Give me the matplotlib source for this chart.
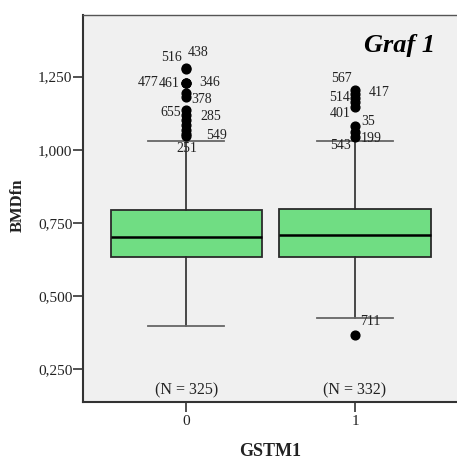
import matplotlib
matplotlib.use('Agg')
import matplotlib.pyplot as plt
import numpy as np

# data
groups = ['0', '1']
n_counts = [325, 332]
q1 = [0.633, 0.633]
med = [0.703, 0.710]
q3 = [0.793, 0.796]
whislo = [0.398, 0.424]
whishi = [1.029, 1.031]

fliers0 = [1.278, 1.275, 1.229, 1.228, 1.227, 1.194, 1.181, 1.136, 1.119,
           1.102, 1.085, 1.068, 1.054, 1.046]
ids0 = ['438', '516', '477', '461', '346', '378', '', '655', '', '285',
        '', '', '549', '251']
fliers1 = [1.204, 1.191, 1.177, 1.163, 1.146, 1.081, 1.061, 1.043, 0.367]
ids1 = ['567', '417', '514', '', '401', '35', '199', '543', '711']

yticks = [0.25, 0.5, 0.75, 1.0, 1.25]
ytick_labels = ['0,250', '0,500', '0,750', '1,000', '1,250']

# label offsets in pixels (dx, dy) from each outlier dot
offs0 = [(12, 16), (-15, 12), (-38, 0), (-17, 0), (23, 1), (15, -6), None,
         (-16, -3), None, (24, 3), None, None, (30, -2), (0, -12)]
offs1 = [(-14, 12), (24, 1), (-15, 1), None, (-15, -6), (13, 5), (16, -7),
         (-15, -8), (15, 13)]

serif = 'Liberation Serif'
plt.rcParams['font.family'] = serif

fig = plt.figure(figsize=(4.57, 4.61), dpi=100)
ax = fig.add_axes([0.181, 0.1273, 0.8227, 0.8402])
ax.set_facecolor('#f0f0f0')

stats = []
for i in range(2):
    stats.append({'med': med[i], 'q1': q1[i], 'q3': q3[i],
                  'whislo': whislo[i], 'whishi': whishi[i],
                  'fliers': [fliers0, fliers1][i]})

pos = np.arange(len(groups))
ax.bxp(stats, positions=pos, widths=0.9, capwidths=0.45, patch_artist=True,
       boxprops=dict(facecolor='#70dd83', edgecolor='#2a2a2a', linewidth=1.3),
       medianprops=dict(color='black', linewidth=1.8),
       whiskerprops=dict(color='#2a2a2a', linewidth=1.2),
       capprops=dict(color='#666666', linewidth=1.3),
       flierprops=dict(marker='o', markerfacecolor='black',
                       markeredgecolor='black', markersize=6.3))

# outlier case labels
for i, (vals, ids, offs) in enumerate([(fliers0, ids0, offs0),
                                       (fliers1, ids1, offs1)]):
    for v, lab, off in zip(vals, ids, offs):
        if not lab:
            continue
        ax.annotate(lab, (pos[i], v), xytext=off, textcoords='offset pixels',
                    ha='center', va='center', fontsize=10, color='#222222')

# N labels
for i, n in enumerate(n_counts):
    ax.text(pos[i], 0.1785, '(N = %d)' % n, ha='center', va='center',
            fontsize=11.5, color='#222222')

ax.set_xlim(-0.615, 1.615)
ax.set_ylim(0.136, 1.461)
ax.set_xticks(pos)
ax.set_xticklabels(groups, fontsize=11)
ax.set_yticks(yticks)
ax.set_yticklabels(ytick_labels, fontsize=11)
ax.tick_params(axis='both', direction='out', length=7, width=1.2,
               color='#333333', labelcolor='#222222')
ax.tick_params(axis='y', pad=0.5)
ax.tick_params(axis='x', pad=2)

for s in ['left', 'bottom']:
    ax.spines[s].set_color('#333333')
    ax.spines[s].set_linewidth(1.5)
ax.spines['top'].set_color('#555555')
ax.spines['top'].set_linewidth(1.0)
ax.spines['right'].set_visible(False)

fig.text(0.04, 0.555, 'BMDfn', rotation=90, ha='center', va='center',
         fontsize=12, fontweight='bold', color='#222222')
fig.text(270.5 / 457, 1 - 456 / 461, 'GSTM1', ha='center', va='baseline',
         fontsize=13, fontweight='bold', color='#222222')
fig.text(435 / 457, 1 - 52 / 461, 'Graf 1', ha='right', va='baseline',
         fontsize=19, fontweight='bold', fontstyle='italic', color='black')

plt.savefig('out.png', dpi=100)
